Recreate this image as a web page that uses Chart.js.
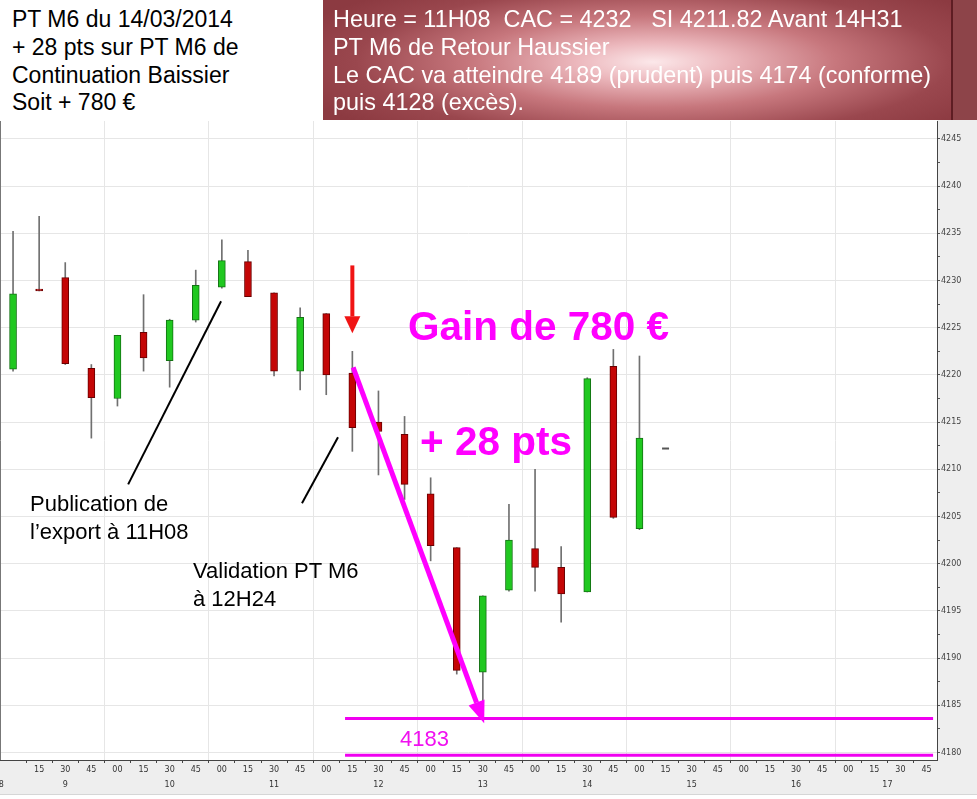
<!DOCTYPE html>
<html>
<head>
<meta charset="utf-8">
<script src="https://cdn.jsdelivr.net/npm/chart.js@4.4.0/dist/chart.umd.min.js"></script>
<style>
  body { margin: 0; background: #fff; }
  #wrap { position: relative; width: 977px; height: 799px; overflow: hidden; font-family: Arial, "Liberation Sans", sans-serif; }
  #chart { position: absolute; left: 0; top: 0; }
  .box { position: absolute; top: 0; box-sizing: border-box; font-size: 23px; line-height: 27.8px; padding-top: 6px; white-space: nowrap; }
  #boxLeft { left: 0; width: 323px; height: 121px; background: #fff; color: #000; padding-left: 12px; }
  #boxRight {
    left: 323px; width: 630px; height: 120px; color: #fff; padding-left: 10px; font-size: 23.4px;
    border-right: 2px solid #5e1d23;
    background: radial-gradient(ellipse 380px 95px at 330px 62px, #fce8ea 0%, #ecb8bd 20%, #c7777d 48%, #9a474e 78%, #8c3a41 100%);
  }
  #boxTail { left: 953px; width: 24px; height: 120px; background: #8d4449; }
  .note { position: absolute; white-space: nowrap; }
  .big { font-weight: bold; font-size: 40.5px; line-height: 1; color: #ff00ff; }
  .small { font-size: 22px; line-height: 27.5px; color: #000; }
</style>
</head>
<body>
<div id="wrap">
  <canvas id="chart" width="977" height="799"></canvas>
  <div class="box" id="boxLeft">PT M6 du 14/03/2014<br>+ 28 pts sur PT M6 de<br>Continuation Baissier<br>Soit + 780 €</div>
  <div class="box" id="boxRight">Heure = 11H08&nbsp; CAC = 4232 &nbsp; SI 4211.82 Avant 14H31<br>PT M6 de Retour Haussier<br>Le CAC va atteindre 4189 (prudent) puis 4174 (conforme)<br>puis 4128 (excès).</div>
  <div class="box" id="boxTail"></div>
  <div class="note big" style="left:408px; top:306px;">Gain de 780 €</div>
  <div class="note big" style="left:420px; top:421px;">+ 28 pts</div>
  <div class="note small" style="left:30px; top:490px;">Publication de<br>l’export à 11H08</div>
  <div class="note small" style="left:193px; top:557px;">Validation PT M6<br>à 12H24</div>
  <div class="note" style="left:400px; top:728px; font-size:22px; line-height:1; color:#f010f0;">4183</div>
</div>
<script>
// 15 minute candles, index 0 = first bar on the left
const opens  = [4220.6, 4229.1, 4230.3, 4220.7, 4217.5, 4224.5, 4221.5, 4225.8, 4229.3, 4232.0, 4228.7, 4220.4, 4226.5,
                4220.2, 4215.0, 4213.7, 4207.4, 4201.7, 4188.5, 4197.2, 4201.6, 4199.6, 4197.0, 4220.9, 4203.7];
const highs  = [4235.2, 4236.8, 4231.9, 4221.1, 4224.2, 4228.5, 4225.9, 4231.1, 4234.3, 4233.2, 4228.7, 4227.1, 4226.5,
                4222.5, 4218.3, 4215.6, 4209.1, 4201.7, 4196.6, 4206.3, 4210.0, 4201.8, 4219.7, 4222.7, 4222.0];
const lows   = [4220.4, 4228.9, 4221.1, 4213.3, 4216.7, 4220.4, 4218.7, 4225.6, 4229.2, 4228.3, 4219.9, 4218.4, 4217.9,
                4211.9, 4209.4, 4206.8, 4200.3, 4188.3, 4184.9, 4197.1, 4197.1, 4193.8, 4197.0, 4204.8, 4203.6];
const closes = [4228.6, 4228.9, 4221.2, 4217.6, 4224.2, 4221.8, 4225.8, 4229.5, 4232.1, 4228.3, 4220.4, 4226.1, 4220.0,
                4214.4, 4214.0, 4208.4, 4201.9, 4188.7, 4196.6, 4202.5, 4199.6, 4196.8, 4219.6, 4204.9, 4213.3];

// last (flat) bar shown as a dash
const lastBar = { x: 25, y: 4212.2 };

// magenta target lines
const targetLevels = [4183.6, 4179.7];
const targetSpan = [12.72, 35.25];

// annotation arrows / pointers, in [bar index, price]
const gainArrow = [[13.03, 4220.8], [18.05, 4183.1]];
const signalArrow = [[13.0, 4231.6], [13.0, 4224.4]];
const pointerLines = [
    [[4.41, 4208.4], [7.97, 4227.8]],
    [[11.07, 4206.4], [12.45, 4213.4]]
];

// axis labels
const xTickLabels = ['15', '30', '45', '00', '15', '30', '45', '00', '15', '30', '45', '00',
                     '15', '30', '45', '00', '15', '30', '45', '00', '15', '30', '45', '00',
                     '15', '30', '45', '00', '15', '30', '45', '00', '15', '30', '45'];
const hourLabels = ['8', '9', '10', '11', '12', '13', '14', '15', '16', '17'];
const hourPos = [-0.45, 2, 6, 10, 14, 18, 22, 26, 30, 33.5];
const yTickValues = [4180, 4185, 4190, 4195, 4200, 4205, 4210, 4215, 4220, 4225, 4230, 4235, 4240, 4245];

const up = opens.map((o, i) => closes[i] >= o);

function drawArrow(ctx, x1, y1, x2, y2, lw, headLen, headW, color) {
    const ang = Math.atan2(y2 - y1, x2 - x1);
    const bx = x2 - headLen * Math.cos(ang);
    const by = y2 - headLen * Math.sin(ang);
    ctx.strokeStyle = color;
    ctx.fillStyle = color;
    ctx.lineWidth = lw;
    ctx.beginPath();
    ctx.moveTo(x1, y1);
    ctx.lineTo(bx, by);
    ctx.stroke();
    const px = -Math.sin(ang) * headW / 2, py = Math.cos(ang) * headW / 2;
    ctx.beginPath();
    ctx.moveTo(x2, y2);
    ctx.lineTo(bx + px, by + py);
    ctx.lineTo(bx - px, by - py);
    ctx.closePath();
    ctx.fill();
}

const overlay = {
    id: 'overlay',
    beforeDraw(chart) {
        const { ctx, chartArea: a, width, height } = chart;
        ctx.save();
        ctx.fillStyle = '#ffffff';
        ctx.fillRect(0, 0, width, height);
        ctx.fillStyle = '#eeeeee';
        ctx.fillRect(a.right, 0, width - a.right, 795);
        ctx.fillRect(0, a.bottom, width, 795 - a.bottom);
        ctx.fillStyle = '#d6d6d6';
        ctx.fillRect(0, 794, width, 1);
        ctx.restore();
    },
    afterDatasetsDraw(chart) {
        const { ctx, scales: { x, y } } = chart;
        const px = p => [x.getPixelForValue(p[0]), y.getPixelForValue(p[1])];
        ctx.save();
        ctx.lineCap = 'butt';
        pointerLines.forEach(l => {
            const [x1, y1] = px(l[0]), [x2, y2] = px(l[1]);
            ctx.strokeStyle = '#000';
            ctx.lineWidth = 2;
            ctx.beginPath();
            ctx.moveTo(x1, y1);
            ctx.lineTo(x2, y2);
            ctx.stroke();
        });
        let [a1, b1] = px(gainArrow[0]), [a2, b2] = px(gainArrow[1]);
        drawArrow(ctx, a1, b1, a2, b2, 5, 22, 17, '#ff00ff');
        [a1, b1] = px(signalArrow[0]);
        [a2, b2] = px(signalArrow[1]);
        drawArrow(ctx, a1, b1, a2, b2, 4, 17, 16, '#f01414');
        ctx.restore();
    },
    afterDraw(chart) {
        const { ctx, chartArea: a, scales: { x } } = chart;
        ctx.save();
        ctx.strokeStyle = '#777';
        ctx.lineWidth = 1;
        ctx.beginPath();
        ctx.moveTo(a.left + 0.5, a.top);
        ctx.lineTo(a.left + 0.5, a.bottom);
        ctx.stroke();
        ctx.fillStyle = '#333';
        ctx.font = '8px "DejaVu Sans"';
        ctx.textAlign = 'center';
        ctx.textBaseline = 'middle';
        hourLabels.forEach((h, i) => ctx.fillText(h, x.getPixelForValue(hourPos[i]), a.bottom + 25));
        ctx.restore();
    }
};

new Chart(document.getElementById('chart'), {
    type: 'bar',
    data: {
        datasets: [
            {
                label: 'wicks',
                data: lows.map((l, i) => ({ x: i, y: [l, highs[i]] })),
                backgroundColor: '#707070',
                barThickness: 1,
                grouped: false,
                borderSkipped: false,
                order: 3
            },
            {
                label: 'bodies',
                data: opens.map((o, i) => ({ x: i, y: [o, closes[i]] })),
                backgroundColor: up.map(u => u ? '#20c820' : '#c40606'),
                borderColor: up.map(u => u ? '#137313' : '#6a0000'),
                borderWidth: 1,
                barThickness: 7,
                grouped: false,
                borderSkipped: false,
                order: 2
            },
            {
                type: 'scatter',
                label: 'last',
                data: [lastBar],
                pointStyle: 'line',
                pointRadius: 3.5,
                borderColor: '#555',
                borderWidth: 2,
                order: 1
            },
            ...targetLevels.map(lvl => ({
                type: 'line',
                label: 'target ' + lvl,
                data: [{ x: targetSpan[0], y: lvl }, { x: targetSpan[1], y: lvl }],
                borderColor: '#f000f0',
                borderWidth: 3,
                pointRadius: 0,
                order: 0
            }))
        ]
    },
    options: {
        responsive: false,
        animation: false,
        devicePixelRatio: 1,
        layout: { autoPadding: false, padding: { top: 121, left: 0, right: 0, bottom: 4 } },
        plugins: { legend: { display: false }, tooltip: { enabled: false } },
        scales: {
            x: {
                type: 'linear',
                min: -0.5,
                max: 35.4,
                offset: false,
                afterBuildTicks: s => { s.ticks = xTickLabels.map((_, i) => ({ value: i + 1 })); },
                afterFit: s => { s.height = 35; s.paddingLeft = 0; s.paddingRight = 0; },
                ticks: {
                    autoSkip: false,
                    maxRotation: 0,
                    padding: 2,
                    color: '#333',
                    font: { family: 'DejaVu Sans', size: 8 },
                    callback: v => xTickLabels[Math.round(v) - 1]
                },
                grid: {
                    color: c => (c.tick && xTickLabels[Math.round(c.tick.value) - 1] === '00') ? '#e6e6e6' : 'rgba(0,0,0,0)',
                    tickColor: '#444',
                    tickLength: 3
                },
                border: { color: '#444', width: 1 }
            },
            y: {
                position: 'right',
                min: 4179.2,
                max: 4246.9,
                afterBuildTicks: s => {
                    const t = [];
                    yTickValues.forEach(v => { t.push({ value: v }); t.push({ value: v + 2.5 }); });
                    s.ticks = t;
                },
                afterFit: s => { s.width = 40; s.paddingTop = 0; s.paddingBottom = 0; },
                ticks: {
                    padding: 1,
                    color: '#444',
                    font: { family: 'DejaVu Sans', size: 8 },
                    callback: v => yTickValues.includes(v) ? String(v) : ''
                },
                grid: {
                    color: c => (c.tick && yTickValues.includes(c.tick.value)) ? '#e6e6e6' : 'rgba(0,0,0,0)',
                    tickColor: '#555',
                    tickLength: 3
                },
                border: { color: '#444', width: 1 }
            }
        }
    },
    plugins: [overlay]
});
</script>
</body>
</html>
